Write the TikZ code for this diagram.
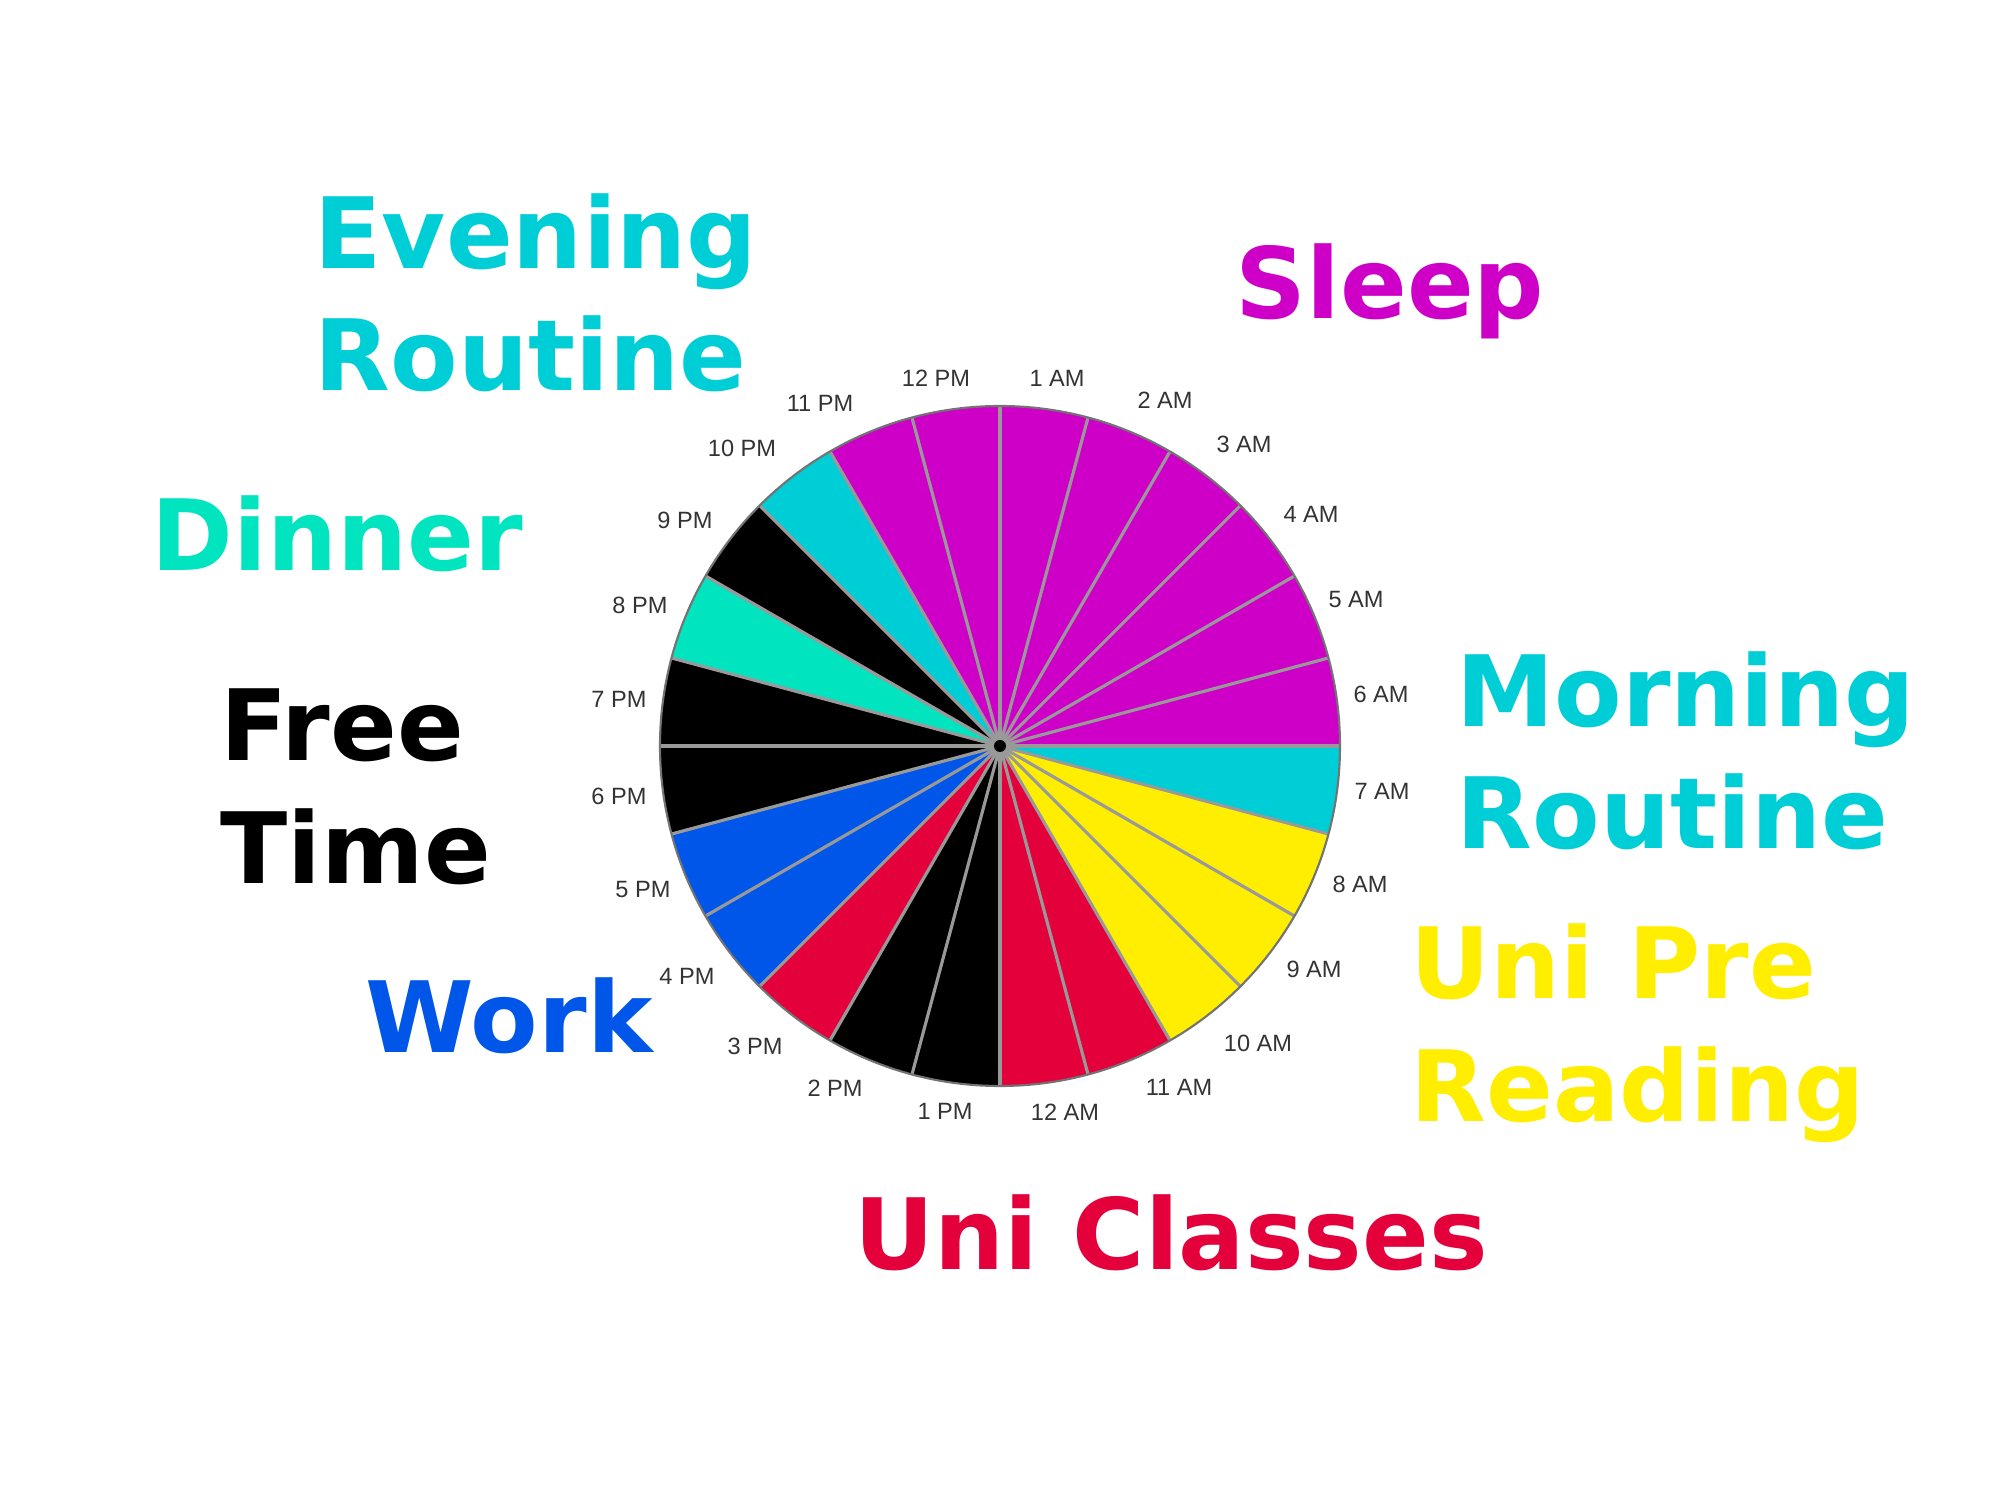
\documentclass[tikz,border=0pt]{standalone}
\usepackage{fontspec}
\newfontfamily\tagfont{DejaVu Sans}
\newfontfamily\hourfont{Liberation Sans}
\definecolor{sleepcol}{RGB}{206,0,200}
\definecolor{morningcol}{RGB}{0,206,214}
\definecolor{dinnercol}{RGB}{0,228,192}
\definecolor{prereadcol}{RGB}{255,238,0}
\definecolor{classescol}{RGB}{228,0,58}
\definecolor{workcol}{RGB}{0,86,232}

\begin{document}
\begin{tikzpicture}[x=0.01cm, y=0.01cm,
    activity/.style={font={\tagfont\bfseries\fontsize{28}{34.7}\selectfont}, inner sep=0pt, anchor=base west, align=left},
    hour/.style={font={\hourfont\fontsize{6.7}{8}\selectfont}, text=black!80, inner sep=0pt},
    sep/.style={draw=black!40, line width=0.9pt}]

    \useasboundingbox (-1000,-754) rectangle (1000,746);
    \coordinate (ctr) at (0,0);

    % hour slices, clockwise from the top
    \foreach \col [count=\k] in {sleepcol,sleepcol,sleepcol,sleepcol,sleepcol,sleepcol,
        morningcol,prereadcol,prereadcol,prereadcol,classescol,classescol,
        black,black,classescol,workcol,workcol,black,
        black,dinnercol,black,morningcol,sleepcol,sleepcol}
        \fill[\col] (ctr) -- ({105-\k*15}:340) arc[start angle={105-\k*15}, end angle={90-\k*15}, radius=340] -- cycle;

    \foreach \a in {0,15,...,345}
        \draw[sep] (ctr) -- (\a:340);
    \draw[black!55, line width=0.6pt] (ctr) circle[radius=340];
    \fill[black] (ctr) circle[radius=6];

    % hour labels
    \foreach \lab/\px/\py [count=\i] in {1 AM/57/368, 2 AM/165/346, 3 AM/244/302, 4 AM/311/232,
        5 AM/356/146, 6 AM/381/52, 7 AM/382/-45, 8 AM/360/-138, 9 AM/314/-223,
        10 AM/258/-297, 11 AM/179/-341, 12 AM/65/-366, 1 PM/-55/-365, 2 PM/-165/-342,
        3 PM/-245/-300, 4 PM/-313/-230, 5 PM/-357/-144, 6 PM/-381/-50, 7 PM/-381/47,
        8 PM/-360/141, 9 PM/-315/226, 10 PM/-258/298, 11 PM/-180/343, 12 PM/-64/368}
        \node[hour] (hour\i) at (\px,\py) {\lab};

    % activities (base = last line)
    \node[activity, text=morningcol] (evening) at (-686,355) {Evening\\Routine};
    \node[activity, text=sleepcol] (sleep) at (235,427) {Sleep};
    \node[activity, text=dinnercol] (dinner) at (-849,175) {Dinner};
    \node[activity, text=black] (free) at (-780,-137) {Free\\Time};
    \node[activity, text=morningcol] (morning) at (456,-103) {Morning\\Routine};
    \node[activity, text=workcol] (work) at (-635,-306) {Work};
    \node[activity, text=prereadcol] (preread) at (410,-375) {Uni Pre\\Reading};
    \node[activity, text=classescol] (classes) at (-146,-523) {Uni Classes};
\end{tikzpicture}
\end{document}
